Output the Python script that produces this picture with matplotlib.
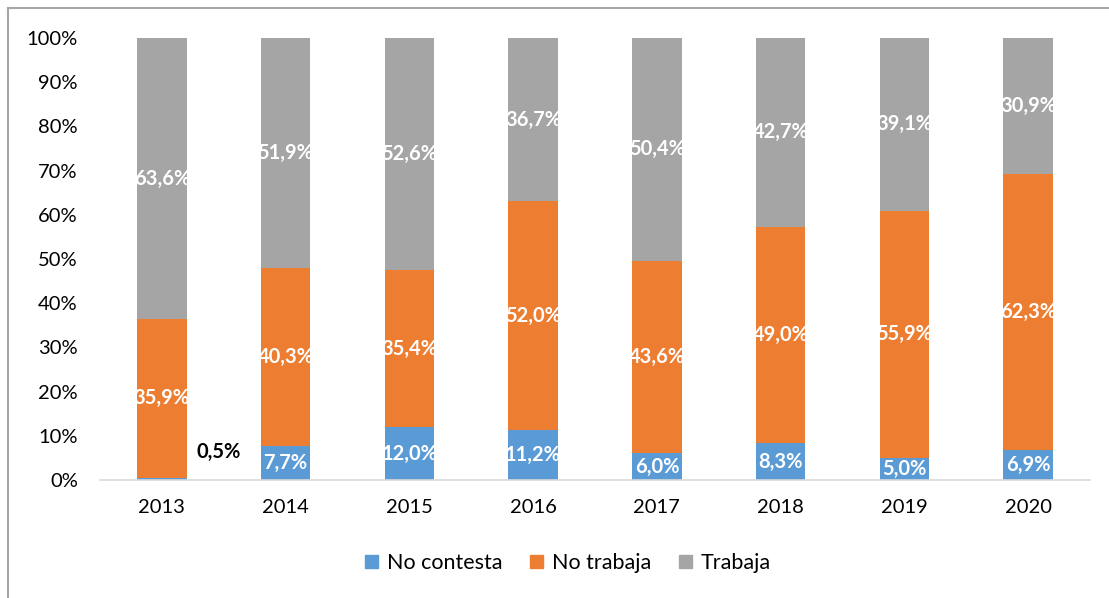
import matplotlib.pyplot as plt
import numpy as np
from matplotlib.lines import Line2D
from matplotlib.patches import Patch

years = ['2013', '2014', '2015', '2016', '2017', '2018', '2019', '2020']
no_contesta = [0.5, 7.7, 12.0, 11.2, 6.0, 8.3, 5.0, 6.9]
no_trabaja = [35.9, 40.3, 35.4, 52.0, 43.6, 49.0, 55.9, 62.3]
trabaja = [63.6, 51.9, 52.6, 36.7, 50.4, 42.7, 39.1, 30.9]

colors = ['#5B9BD5', '#ED7D31', '#A5A5A5']
names = ['No contesta', 'No trabaja', 'Trabaja']

plt.rcParams['font.family'] = ['Lato', 'DejaVu Sans']

fig = plt.figure(figsize=(11.09, 5.98), dpi=100)
ax = fig.add_axes([100/1109, 1 - 480/598, 990/1109, 442/598])

x = np.arange(len(years))
w = 0.4
bottom = np.zeros(len(years))
for vals, c, n in zip([no_contesta, no_trabaja, trabaja], colors, names):
    v = np.array(vals)
    ax.bar(x, v, w, bottom=bottom, color=c, label=n, zorder=2)
    for i in range(len(years)):
        if n == 'No contesta' and i == 0:
            ax.text(x[i] + 0.46, 6.3, '0,5%', ha='center', va='center',
                    color='black', fontsize=14.5, fontweight='bold')
            continue
        ax.text(x[i], bottom[i] + v[i] / 2, f'{v[i]:.1f}%'.replace('.', ','),
                ha='center', va='center', color='white', fontsize=14.5,
                fontweight='bold', zorder=3)
    bottom += v

ax.set_xlim(-0.5, len(years) - 0.5)
ax.set_ylim(0, 100)
ax.set_yticks(range(0, 101, 10))
ax.set_yticklabels([f'{t}%' for t in range(0, 101, 10)])
ax.set_xticks(x)
ax.set_xticklabels(years)
ax.tick_params(axis='both', length=0, labelsize=14.5)
ax.tick_params(axis='x', pad=14)
ax.tick_params(axis='y', pad=16)
for s in ['top', 'right', 'left']:
    ax.spines[s].set_visible(False)
ax.spines['bottom'].set_color('#D9D9D9')
ax.spines['bottom'].set_linewidth(1.2)

handles = [Patch(color=c) for c in colors]
fig.legend(handles, names, loc='center', bbox_to_anchor=(0.512, 1 - 563/598),
           ncol=3, frameon=False, fontsize=15.5, handlelength=0.6,
           handleheight=0.6, columnspacing=1.3, handletextpad=0.4)

# outer frame (left and top edges)
fig.add_artist(Line2D([8/1109, 8/1109], [0, 1 - 8/598], color='#A6A6A6', lw=1.5))
fig.add_artist(Line2D([8/1109, 1], [1 - 8/598, 1 - 8/598], color='#A6A6A6', lw=1.5))

fig.savefig('out.png', dpi=100)
